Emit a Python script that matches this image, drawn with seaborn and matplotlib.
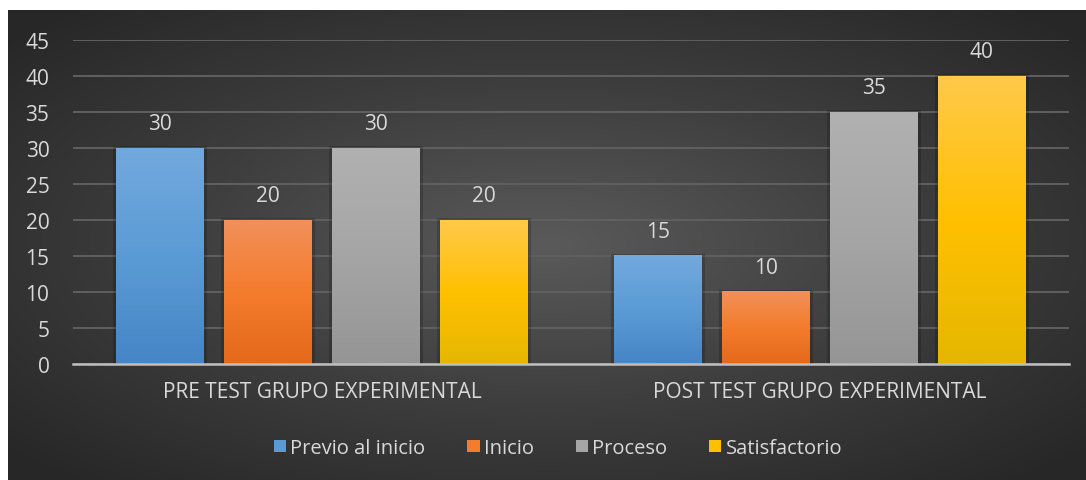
import numpy as np
import pandas as pd
import matplotlib
matplotlib.use('Agg')
import matplotlib.pyplot as plt
import matplotlib.patches as mpatches
from matplotlib.colors import LinearSegmentedColormap
import seaborn as sns

sns.set_style("white")
plt.rcParams['font.family'] = ['Open Sans', 'DejaVu Sans']

# data
grupos = ['PRE TEST GRUPO EXPERIMENTAL', 'POST TEST GRUPO EXPERIMENTAL']
niveles = ['Previo al inicio', 'Inicio', 'Proceso', 'Satisfactorio']
pre_test = [30, 20, 30, 20]
post_test = [15, 10, 35, 40]
y_ticks = [0, 5, 10, 15, 20, 25, 30, 35, 40, 45]

# top / bottom colours for the vertical gradient on each series
TOP = ['#72a9de', '#f1905a', '#b1b1b1', '#ffc94a']
MID = ['#5b9bd5', '#f47c2c', '#a5a5a5', '#ffc000']
BOT = ['#4685c6', '#e4691a', '#959595', '#e5b700']
TEXT = '#d9d9d9'

df = pd.DataFrame({
    'grupo': np.repeat(grupos, len(niveles)),
    'nivel': niveles * len(grupos),
    'valor': pre_test + post_test,
})

fig = plt.figure(figsize=(10.86, 4.81), dpi=100)
fig.patch.set_facecolor('white')

# dark chart area with a radial gradient (lighter in the middle)
bg = fig.add_axes([8 / 1086, 0, 1 - 8 / 1086, 1 - 11 / 481])
bg.set_axis_off()
yy, xx = np.mgrid[-1:1:300j, -1:1:600j]
r = np.sqrt(xx ** 2 + yy ** 2)
bg_cmap = LinearSegmentedColormap.from_list('bg', ['#5a5a5a', '#3e3e3e', '#272727'])
bg.imshow(np.clip(r / 1.35, 0, 1), cmap=bg_cmap, aspect='auto', extent=[0, 1, 0, 1],
          vmin=0, vmax=1)

ax = fig.add_axes([73 / 1086, 1 - 365 / 481, (1069 - 73) / 1086, (365 - 41) / 481])
ax.patch.set_alpha(0)

sns.barplot(data=df, x='grupo', y='valor', hue='nivel', hue_order=niveles,
            palette=MID, width=0.867, gap=0.185, ax=ax, legend=False,
            saturation=1, edgecolor='none')

ax.set_ylim(0, 45)
ax.set_yticks(y_ticks)
ax.set_xlim(-0.5, 1.5)
ax.grid(axis='y', color='#606060', linewidth=1.4)
ax.set_axisbelow(True)
for s in ['top', 'right', 'left']:
    ax.spines[s].set_visible(False)
ax.spines['bottom'].set_color('#bfbfbf')
ax.spines['bottom'].set_linewidth(1.8)
ax.spines['bottom'].set_zorder(5)
ax.tick_params(axis='both', length=0, colors=TEXT)
ax.tick_params(axis='y', labelsize=15, pad=17)
ax.tick_params(axis='x', labelsize=15, pad=12)
ax.set_xlabel('')
ax.set_ylabel('')

# gradient fill + value labels on every bar
grad = np.linspace(0, 1, 256).reshape(-1, 1)
for i, cont in enumerate(ax.containers):
    cmap = LinearSegmentedColormap.from_list('c%d' % i, [BOT[i], MID[i], TOP[i]])
    for bar in cont:
        x0, w, h = bar.get_x(), bar.get_width(), bar.get_height()
        bar.set_facecolor('none')
        shadow = mpatches.Rectangle((x0 - 0.006, 0), w + 0.012, h + 0.25,
                                    color='black', alpha=0.18, zorder=2, lw=0)
        ax.add_patch(shadow)
        ax.imshow(grad, cmap=cmap, aspect='auto', origin='lower',
                  extent=[x0, x0 + w, 0, h], zorder=3)
        ax.text(x0 + w / 2, h + 2.0, f'{h:.0f}', ha='center', va='bottom',
                color=TEXT, fontsize=15)
ax.set_xlim(-0.5, 1.5)
ax.set_ylim(0, 45)

# legend
handles = [mpatches.Patch(facecolor=MID[i], edgecolor='none', label=niveles[i])
           for i in range(len(niveles))]
leg = fig.legend(handles=handles, loc='center', bbox_to_anchor=(558 / 1086, 1 - 449 / 481),
                 ncol=4, frameon=False, fontsize=14.5, handlelength=0.6, handleheight=0.6,
                 handletextpad=0.2, columnspacing=2.1)
for t in leg.get_texts():
    t.set_color(TEXT)

fig.savefig('out.png', dpi=100, facecolor='white')
